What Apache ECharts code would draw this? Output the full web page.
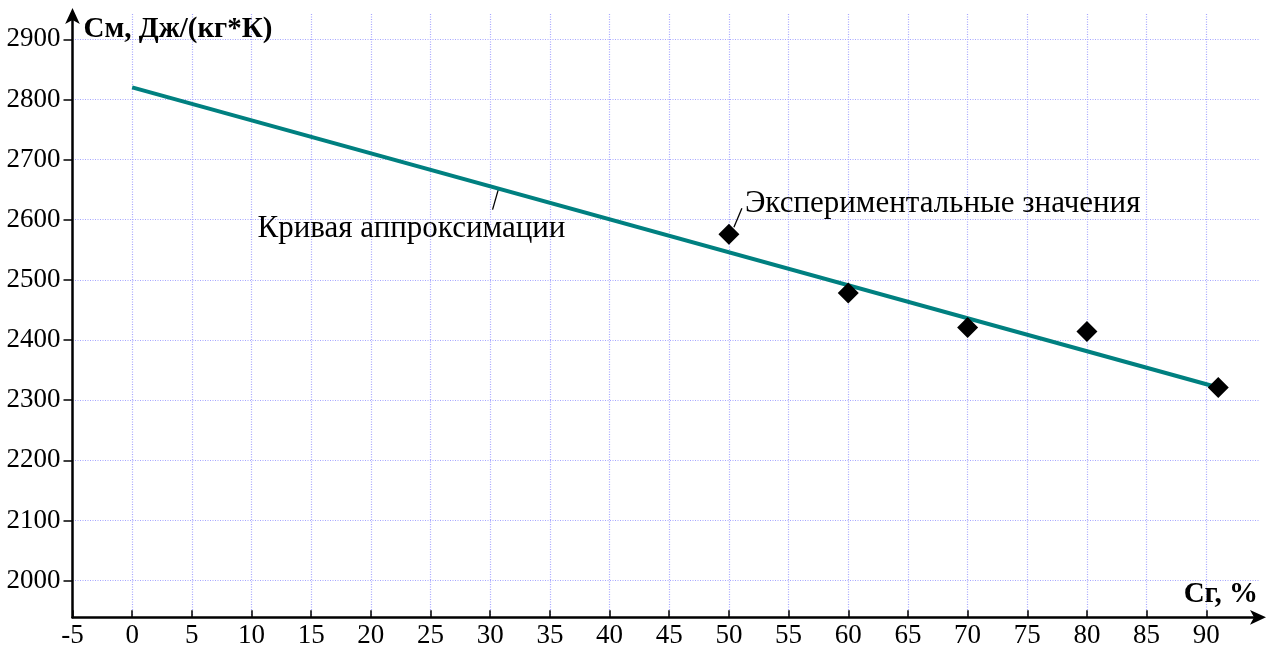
<!DOCTYPE html>
<html>
<head>
<meta charset="utf-8">
<script src="https://cdn.jsdelivr.net/npm/echarts@6/dist/echarts.min.js"></script>
<style>
  html, body { margin: 0; padding: 0; background: #fff; }
  #chart { width: 1274px; height: 650px; }
</style>
</head>
<body>
<div id="chart"></div>
<script>
// Tick values of both axes
const xTicks = [-5, 0, 5, 10, 15, 20, 25, 30, 35, 40, 45, 50, 55, 60, 65, 70, 75, 80, 85, 90];
const yTicks = [2000, 2100, 2200, 2300, 2400, 2500, 2600, 2700, 2800, 2900];

// Approximation line (Сг, %  ->  См, Дж/(кг*К))
const fitX = [0, 91];
const fitY = [2820, 2321];

// Experimental values
const expX = [50, 60, 70, 80, 91];
const expY = [2576, 2478, 2421, 2414, 2321];

const FONT = "'Liberation Serif', 'Times New Roman', serif";

const chart = echarts.init(document.getElementById('chart'), null, { renderer: 'canvas' });

const gridLine = { show: true, lineStyle: { color: '#a6a6ff', type: [1, 1.5], width: 1.2 } };
const plain = v => String(v);

chart.setOption({
  animation: false,
  backgroundColor: '#fff',
  grid: { left: 72.5, right: 14, top: 14, bottom: 32.7 },
  xAxis: {
    type: 'value',
    min: -5,
    max: 94.5,
    axisLine: {
      onZero: false,
      lineStyle: { color: '#000', width: 2.5 },
      symbol: ['none', 'arrow'],
      symbolSize: [11, 16],
      symbolOffset: [0, 6]
    },
    axisTick: { customValues: xTicks, inside: true, length: 7, lineStyle: { color: '#000', width: 1.5 } },
    axisLabel: { customValues: xTicks, formatter: plain, fontFamily: FONT, fontSize: 27, color: '#000', margin: 5 },
    splitLine: gridLine
  },
  yAxis: {
    type: 'value',
    min: 1939,
    max: 2942,
    axisLine: {
      onZero: false,
      lineStyle: { color: '#000', width: 2.5 },
      symbol: ['none', 'arrow'],
      symbolSize: [11, 16],
      symbolOffset: [0, 6]
    },
    axisTick: { customValues: yTicks, length: 9, lineStyle: { color: '#000', width: 1.5 } },
    axisLabel: { customValues: yTicks, formatter: plain, fontFamily: FONT, fontSize: 27, color: '#000', margin: 12 },
    splitLine: gridLine
  },
  series: [
    {
      name: 'Кривая аппроксимации',
      type: 'line',
      data: fitX.map((x, i) => [x, fitY[i]]),
      showSymbol: false,
      lineStyle: { color: '#008080', width: 4 },
      z: 2
    },
    {
      name: 'Экспериментальные значения',
      type: 'scatter',
      data: expX.map((x, i) => [x, expY[i]]),
      symbol: 'diamond',
      symbolSize: 21,
      itemStyle: { color: '#000', opacity: 1 },
      z: 3
    }
  ]
});

// Axis titles and callouts, anchored to data positions through the chart's scales
function place() {
  const p50 = chart.convertToPixel({ seriesIndex: 1 }, [expX[0], expY[0]]);
  const xc = 30.7;
  const yc = fitY[0] + (fitY[1] - fitY[0]) * (xc - fitX[0]) / (fitX[1] - fitX[0]);
  const pc = chart.convertToPixel({ seriesIndex: 0 }, [xc, yc]);
  const top = chart.convertToPixel({ yAxisIndex: 0 }, 2942);
  const left = chart.convertToPixel({ xAxisIndex: 0 }, -5);
  const right = chart.convertToPixel({ xAxisIndex: 0 }, 94.5);
  const bottom = chart.convertToPixel({ yAxisIndex: 0 }, 1939);

  chart.setOption({
    graphic: [
      {
        type: 'text', left: left + 11, top: top + 1,
        style: { text: 'См, Дж/(кг*К)', font: 'bold 29px ' + FONT, fill: '#000' }
      },
      {
        type: 'text', x: right - 2, y: bottom - 8,
        style: { text: 'Сг, %', font: 'bold 29px ' + FONT, fill: '#000', align: 'right', verticalAlign: 'bottom' }
      },
      {
        type: 'line',
        shape: { x1: p50[0] + 5, y1: p50[1] - 7, x2: p50[0] + 13, y2: p50[1] - 26 },
        style: { stroke: '#000', lineWidth: 1.3 }
      },
      {
        type: 'text', x: p50[0] + 16, y: p50[1] - 30,
        style: { text: 'Экспериментальные значения', font: '31px ' + FONT, fill: '#000', verticalAlign: 'middle' }
      },
      {
        type: 'line',
        shape: { x1: pc[0], y1: pc[1], x2: pc[0] - 6, y2: pc[1] + 21 },
        style: { stroke: '#000', lineWidth: 1.3 }
      },
      {
        type: 'text', x: pc[0] - 241, y: pc[1] + 40,
        style: { text: 'Кривая аппроксимации', font: '31px ' + FONT, fill: '#000', verticalAlign: 'middle' }
      }
    ]
  });
}
place();
</script>
</body>
</html>
